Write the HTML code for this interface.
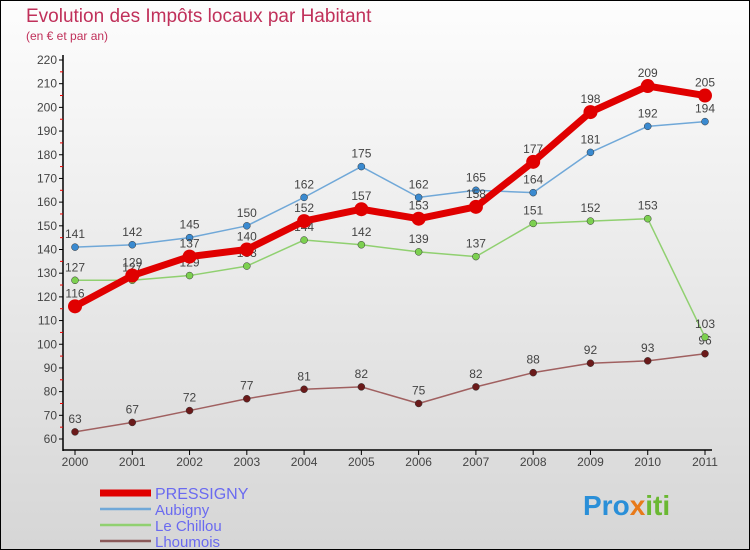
<!DOCTYPE html>
<html><head><meta charset="utf-8"><style>
body{margin:0}
#c{width:750px;height:550px;position:relative;box-sizing:border-box;border:1px solid #000;background:linear-gradient(#fdfdfd,#d6d6d6);font-family:"Liberation Sans",sans-serif;overflow:hidden}
</style></head><body>
<div id="c">
<svg id="s" width="750" height="550" style="position:absolute;left:-1px;top:-1px">
<text x="26" y="22" font-size="19" fill="#c0305a">Evolution des Impôts locaux par Habitant</text>
<text x="26" y="40" font-size="12" fill="#c0305a">(en € et par an)</text>
<g id="axes"></g><g id="series"></g><g id="legend"></g>
<text x="583" y="515" font-size="28" font-weight="bold" fill="#2a8fd8">Pro<tspan fill="#e87a1a">x</tspan><tspan fill="#6ab832">iti</tspan></text>
</svg>
</div>
<script>
const years=[2000,2001,2002,2003,2004,2005,2006,2007,2008,2009,2010,2011];
const yTicks=[60,70,80,90,100,110,120,130,140,150,160,170,180,190,200,210,220];
const pressigny=[116,129,137,140,152,157,153,158,177,198,209,205];
const aubigny=[141,142,145,150,162,175,162,165,164,181,192,194];
const chillou=[127,127,129,133,144,142,139,137,151,152,153,103];
const lhoumois=[63,67,72,77,81,82,75,82,88,92,93,96];
const names=["PRESSIGNY","Aubigny","Le Chillou","Lhoumois"];
const NS="http://www.w3.org/2000/svg";
function X(i){return 75+i*(705-75)/(years.length-1);}
function Y(v){return 439-(v-60)*(439-60)/160;}
function mk(t,a,p){const e=document.createElementNS(NS,t);for(const k in a)e.setAttribute(k,a[k]);p.appendChild(e);return e;}
const ax=document.getElementById('axes');
let l=mk('line',{x1:63,y1:55,x2:63,y2:451,stroke:'#000','stroke-width':1.5},ax);


l=mk('line',{x1:63,y1:450,x2:712,y2:450,stroke:'#000','stroke-width':1.5},ax);


yTicks.forEach(v=>{
 mk('line',{x1:59,y1:Y(v),x2:63,y2:Y(v),stroke:'#000'},ax);
 if(v<220)mk('line',{x1:60,y1:Y(v+5),x2:63,y2:Y(v+5),stroke:'#e00'},ax);
 const t=mk('text',{x:57,y:Y(v)+4,'text-anchor':'end','font-size':12,fill:'#444'},ax);t.textContent=v;
 
 
});
years.forEach((y,i)=>{
 mk('line',{x1:X(i),y1:450,x2:X(i),y2:455,stroke:'#000'},ax);
 const t=mk('text',{x:X(i),y:466,'text-anchor':'middle','font-size':12,fill:'#444'},ax);t.textContent=y;
 
 
});
const sg=document.getElementById('series');
const defs=[[lhoumois,'#6b1a1a','#a06060',1.5,3.5,'lhoumois'],[chillou,'#7cd050','#90d070',1.5,3.5,'le-chillou'],[aubigny,'#3a8ad0','#70a8d8',1.5,3.5,'aubigny'],[pressigny,'#e00000','#e00000',7,7,'pressigny']];
defs.forEach(([d,dc,lc,w,r,n])=>{
 const g=mk('g',{},sg);
 
 
 mk('polyline',{points:d.map((v,i)=>X(i)+','+Y(v)).join(' '),fill:'none',stroke:lc,'stroke-width':w,'stroke-linejoin':'round'},g);
 d.forEach((v,i)=>{
  const c=mk('circle',{cx:X(i),cy:Y(v),r:r,fill:dc,stroke:w>2?'none':'#333','stroke-width':0.5},g);
  
  
  const t=mk('text',{x:X(i),y:Y(v)-9,'text-anchor':'middle','font-size':12,fill:'#444'},g);t.textContent=v;
  
  
 });
});
const lg=document.getElementById('legend');
const lc=['#e00000','#70a8d8','#90d070','#8b5a5a'],lw=[7,2.5,2.5,2.5];
names.forEach((n,i)=>{
 const y=493+i*16;
 const g=mk('g',{},lg);
 
 
 mk('line',{x1:100,y1:y,x2:151,y2:y,stroke:lc[i],'stroke-width':lw[i]},g);
 const t=mk('text',{x:155,y:y+6,'font-size':i==0?16:15,fill:'#6a6af0'},g);t.textContent=n;
});
</script>
</body></html>
